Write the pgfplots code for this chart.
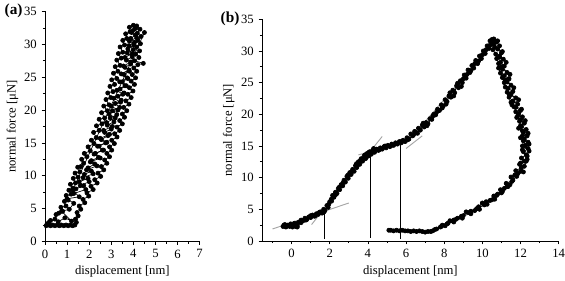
\documentclass[border=0pt]{standalone}
\usepackage{fontspec}
\setmainfont{Liberation Serif}
\usepackage{pgfplots}
\pgfplotsset{compat=1.18}
\pgfplotsset{
  myax/.style={
    scale only axis,
    anchor=south west,
    axis x line*=bottom, axis y line*=left,
    axis line style={-, line width=0.6pt, black},
    tick align=outside,
    major tick length=2.6pt, minor tick length=1.6pt,
    every tick/.style={black, line width=0.5pt},
    /pgf/number format/assume math mode=true,
    tick label style={font=\fontsize{9.5}{11}\selectfont},
    label style={font=\fontsize{9.5}{11}\selectfont},
    ymin=0, ymax=35, ytick={0,5,...,35}, minor ytick={2.5,7.5,...,32.5},
    clip=false,
  },
  dots/.style={black, line width=0.5pt, mark=*, mark size=1.55pt, mark options={solid}},
  fit/.style={gray!70, line width=0.7pt},
}
\begin{document}
\begin{tikzpicture}
\useasboundingbox (0,0) rectangle (423.75pt,210pt);
% ---------------- panel (a)
\begin{axis}[myax,
  at={(33.75pt,28.9pt)}, width=116pt, height=172.5pt,
  xmin=0, xmax=7, xtick={0,...,7}, minor xtick={0.5,1.5,...,6.5},
  xlabel={displacement [nm]}, ylabel={normal force [μN]},
  xlabel style={at={(axis description cs:0.5,0)}, anchor=center, yshift=-22.5pt},
  ylabel style={at={(axis description cs:-0.21,0.5)}, anchor=center},
]
% left branch
\addplot[dots] coordinates {
(0.10,2.7) (0.18,2.9) (0.25,3.2) (0.45,3.4) (0.50,4.1) (0.62,4.3) (0.80,4.6) (0.72,5.2) (0.95,5.4) (0.88,6.1)
(1.05,6.3) (0.96,7.0) (1.18,7.2) (1.08,7.8) (1.26,8.1) (1.15,8.7) (1.38,8.9) (1.28,9.6) (1.50,9.8) (1.36,10.4)
(1.58,10.6) (1.48,11.3) (1.62,11.4) (1.75,11.9) (1.66,12.5) (1.90,12.9) (1.78,13.4) (2.05,13.8) (1.95,14.4) (2.22,14.9)
(2.10,15.4) (2.32,15.8) (2.20,16.6) (2.45,16.9) (2.33,17.6) (2.58,17.9) (2.45,18.6) (2.70,18.8) (2.56,19.6) (2.82,19.9)
(2.66,20.6) (2.90,20.8) (2.76,21.6) (2.98,21.9) (2.84,22.6) (3.08,22.8) (2.94,23.6) (3.15,23.9) (3.02,24.6) (3.25,24.8)
(3.10,25.6) (3.30,25.9) (3.18,26.6) (3.40,26.8) (3.25,27.6) (3.45,27.9) (3.32,28.6) (3.52,28.8) (3.40,29.6) (3.60,29.9)
(3.52,30.6) (3.70,30.9) (3.65,31.6) (3.85,31.9) (3.82,32.6) (4.00,32.9)
};
% right branch
\addplot[dots] coordinates {
(4.15,32.8) (4.30,32.3) (4.18,31.7) (4.35,31.2) (4.20,30.6) (4.32,30.1) (4.15,29.6) (4.28,29.0) (4.10,28.5) (4.25,28.0)
(4.05,27.5) (4.45,27.1) (4.20,26.9) (4.02,26.4) (4.15,25.9) (3.95,25.4) (4.10,24.9) (3.90,24.4) (4.05,23.9) (3.82,23.4)
(3.98,22.9) (3.75,22.4) (3.90,21.9) (3.66,21.4) (3.80,20.9) (3.56,20.4) (3.70,19.9) (3.50,19.4) (3.60,18.9) (3.38,18.4)
(3.50,17.9) (3.26,17.4) (3.38,16.9) (3.15,16.4) (3.26,15.9) (3.02,15.4) (3.14,14.9) (2.92,14.4) (3.02,13.9) (2.80,13.4)
(2.92,12.9) (2.70,12.4) (2.80,11.9) (2.55,11.4) (2.66,10.9) (2.40,10.4) (2.52,9.9) (2.25,9.4) (2.36,8.9) (2.08,8.4)
(2.18,7.9) (1.90,7.4) (1.98,6.9) (1.72,6.4) (1.80,5.9) (1.55,5.4) (1.62,4.9) (1.45,4.4) (1.50,3.9) (1.38,3.4)
(1.42,2.9) (1.35,2.5) (1.25,2.4) (1.15,2.5) (1.05,2.4) (0.95,2.5) (0.85,2.4) (0.75,2.5) (0.65,2.4) (0.55,2.5)
(0.45,2.4) (0.35,2.5) (0.25,2.4) (0.15,2.5) (0.05,2.4)
};
% middle passes
\addplot[dots] coordinates {
(1.40,8.0) (1.75,8.5) (1.55,9.1) (1.95,9.6) (1.78,10.2) (2.10,10.7) (1.95,11.2) (2.25,11.8) (2.10,12.3) (2.42,12.8)
(2.28,13.4) (2.60,13.9) (2.45,14.5) (2.75,15.0) (2.55,15.5) (2.85,16.1) (2.70,16.6) (3.00,17.1) (2.82,17.7) (3.12,18.2)
(2.95,18.8) (3.25,19.3) (3.05,19.9) (3.38,20.4) (3.18,21.0) (3.45,21.5) (3.30,22.1) (3.58,22.6) (3.40,23.2) (3.68,23.7)
(3.50,24.3) (3.75,24.8) (3.58,25.4) (3.82,25.9) (3.62,26.5) (3.88,27.0) (3.68,27.6) (3.95,28.1) (3.72,28.7) (4.00,29.2)
(3.80,29.8) (4.05,30.3) (3.88,30.9) (4.10,31.4) (3.95,32.0) (4.12,32.5)
};
\addplot[dots] coordinates {
(4.05,32.3) (3.92,31.8) (4.15,31.0) (3.82,30.5) (4.02,29.9) (3.75,29.3) (3.95,28.6) (3.62,28.0) (3.88,27.3) (3.55,26.7)
(3.80,26.1) (3.45,25.5) (3.72,24.9) (3.38,24.3) (3.62,23.7) (3.25,23.0) (3.52,22.4) (3.12,21.8) (3.42,21.2) (3.00,20.6)
(3.30,20.0) (2.90,19.4) (3.18,18.8) (2.78,18.1) (3.05,17.5) (2.65,16.9) (2.92,16.3) (2.50,15.7) (2.80,15.1) (2.38,14.5)
(2.65,13.9) (2.22,13.3) (2.50,12.7) (2.05,12.1) (2.35,11.5) (1.88,10.9) (2.18,10.3) (1.72,9.7) (2.00,9.1) (1.60,8.5)
(1.85,7.9) (1.30,7.3)
};
\addplot[dots] coordinates {
(0.60,3.0) (0.90,3.6) (1.20,3.1) (0.75,4.6) (1.10,4.9) (1.30,5.8) (1.00,6.5) (1.55,6.8) (1.25,7.8) (4.50,31.8)
};
\end{axis}
\node[anchor=west, font=\fontsize{11.5}{13}\selectfont\bfseries] at (0pt,201.75pt) {(a)};
% ---------------- panel (b)
\begin{axis}[myax,
  at={(196.5pt,29.25pt)}, width=222.5pt, height=166.3pt,
  xmin=-1.55, xmax=14, xtick={0,2,...,14}, minor xtick={-1,1,3,...,13},
  xlabel={displacement [nm]}, ylabel={normal force [μN]},
  xlabel style={at={(axis description cs:0.5,0)}, anchor=center, yshift=-22.5pt},
  ylabel style={at={(axis description cs:-0.112,0.5)}, anchor=center},
]
% loading
\addplot[dots] coordinates {
(-0.45,2.3) (-0.35,2.6) (-0.3,2.2) (-0.2,2.5) (-0.1,2.3) (-0.05,2.7) (0.05,2.2) (0.1,2.5) (0.2,2.3) (0.25,2.7)
(0.3,2.4) (0.35,2.9) (0.4,3.0) (0.5,3.3) (0.6,3.2) (0.7,3.6) (0.8,3.4) (0.9,3.8) (1.0,3.7) (1.1,4.1)
(1.2,3.9) (1.3,4.3) (1.4,4.2) (1.5,4.6) (1.6,4.4) (1.68,5.0) (1.75,4.8) (1.85,5.6) (1.92,5.3) (2.0,6.2)
(2.08,6.6) (2.15,7.2) (2.22,6.9) (2.3,7.7) (2.38,7.5) (2.45,8.3) (2.52,8.1) (2.6,8.9) (2.68,8.7) (2.75,9.6)
(2.82,9.3) (2.9,10.2) (2.97,9.9) (3.05,10.8) (3.12,10.5) (3.2,11.3) (3.28,11.0) (3.35,11.9) (3.42,11.6) (3.5,12.5)
(3.57,12.1) (3.65,13.0) (3.72,12.6) (3.8,13.4) (3.88,13.0) (3.95,13.8) (4.02,13.4) (4.1,14.1) (4.18,13.7) (4.25,14.3)
(4.35,14.0) (4.45,14.5) (4.55,14.3) (4.65,14.7) (4.75,14.5) (4.85,14.9) (4.95,14.7) (5.05,15.1) (5.15,14.9) (5.25,15.3)
(5.35,15.1) (5.45,15.5) (5.55,15.3) (5.65,15.7) (5.75,15.5) (5.85,15.9) (5.95,15.7) (6.05,16.3) (6.15,16.1) (6.25,16.9)
(6.35,16.6) (6.45,17.3) (6.55,17.1) (6.65,17.8) (6.75,17.5) (6.85,18.3) (6.95,18.0) (7.05,18.7) (7.15,18.5) (7.25,19.3)
(7.35,19.2) (7.45,20.0) (7.55,19.9) (7.65,20.8) (7.75,20.6) (7.85,21.5) (7.95,21.3) (8.05,22.3) (8.15,22.0) (8.25,22.9)
(8.35,22.7) (8.45,23.8) (8.55,23.4) (8.65,24.5) (8.75,24.2) (8.85,25.3) (8.95,25.0) (9.05,26.2) (9.15,25.7) (9.25,27.0)
(9.35,26.6) (9.45,27.7) (9.55,27.3) (9.65,28.5) (9.75,28.0) (9.85,29.2) (9.95,28.8) (10.05,30.0) (10.15,29.6) (10.25,30.8)
(10.35,30.4) (10.45,31.5) (10.55,31.1) (10.65,31.6)
};
\addplot[dots] coordinates {
(-0.4,2.5) (0.15,2.8) (0.0,2.4) (-0.25,2.4) (0.3,2.2)
};
\addplot[dots] coordinates {
(0.5,2.9) (0.75,3.3) (1.0,4.0) (1.25,4.0) (1.45,4.5) (1.7,4.6) (1.95,5.8) (2.1,6.3) (2.3,7.3) (2.5,8.5)
(2.7,9.2) (2.95,10.4) (3.15,10.9) (3.4,12.2) (3.6,12.7) (3.85,13.6) (4.05,14.0) (4.3,14.6) (4.6,14.4) (4.9,15.0)
(5.2,15.0) (5.5,15.4) (5.8,15.8) (6.1,16.0) (6.4,16.8)
};
\addplot[dots] coordinates {
(6.6,17.0) (6.9,18.6) (7.1,18.2) (7.4,19.7) (7.6,20.3) (7.9,21.0) (8.1,21.6) (8.3,23.4) (8.5,22.9) (8.7,24.9)
(8.9,24.4) (9.0,25.6) (9.2,26.3) (9.4,26.9) (9.6,28.0) (9.8,28.4) (10.0,29.4) (10.2,30.2) (10.4,30.9) (10.6,31.9)
(10.8,31.6) (10.5,31.8)
};
% unloading
\addplot[dots] coordinates {
(10.75,31.4) (10.9,30.8) (10.8,30.3) (11.0,29.7) (10.9,29.2) (11.1,28.7) (10.95,28.2) (11.15,27.6) (11.05,27.1) (11.3,26.6)
(11.15,26.1) (11.4,25.6) (11.3,25.1) (11.5,24.6) (11.35,24.1) (11.6,23.6) (11.5,23.1) (11.75,22.6) (11.6,22.1) (11.85,21.6)
(11.75,21.1) (12.0,20.6) (11.9,20.1) (12.1,19.6) (12.0,19.1) (12.2,18.6) (12.05,18.1) (12.3,17.6) (12.15,17.1) (12.35,16.6)
(12.2,16.1) (12.4,15.6) (12.25,15.1) (12.4,14.6) (12.15,14.1) (12.3,13.6) (12.05,13.1) (12.2,12.6) (11.95,12.1) (12.05,11.6)
(11.75,11.1) (11.85,10.6) (11.5,10.1) (11.6,9.6) (11.25,9.1) (11.35,8.6) (10.95,8.1) (11.0,7.6) (10.6,7.1) (10.65,6.6)
(10.2,6.2) (10.25,5.8) (9.8,5.4) (9.85,5.0) (9.4,4.7) (9.4,4.3) (9.0,4.0) (8.95,3.6) (8.6,3.4) (8.5,3.0)
(8.2,2.8) (8.05,2.4) (7.8,2.2) (7.6,1.9) (7.4,1.6) (7.3,1.5) (7.15,1.5) (7.0,1.4) (6.85,1.5) (6.7,1.6)
(6.55,1.5) (6.4,1.6) (6.25,1.5) (6.1,1.6) (5.95,1.6) (5.8,1.7) (5.65,1.6) (5.5,1.7) (5.35,1.6) (5.2,1.7) (5.1,1.7)
};
\addplot[dots] coordinates {
(10.4,31.6) (10.6,31.0) (10.55,30.2) (10.7,29.5) (10.75,28.8) (10.85,28.0) (10.85,27.3) (10.95,26.5) (11.05,25.8) (11.15,25.0)
(11.2,24.3) (11.3,23.5) (11.4,22.7) (11.5,21.9) (11.65,21.2) (11.75,20.4) (11.85,19.7) (11.95,18.9) (12.0,18.2) (12.1,17.4)
(12.1,16.6) (12.15,15.8) (12.1,15.0) (12.45,14.2) (12.35,13.4) (12.3,12.6) (12.2,11.8) (12.0,11.0) (11.8,10.2) (11.55,9.4)
(11.3,8.6) (11.05,7.8) (10.75,7.2) (10.5,6.5) (10.1,5.7) (9.7,5.1) (9.3,4.5) (8.9,3.9) (8.5,3.3) (8.15,2.7)
(7.85,2.3) (7.5,1.8)
};
\addplot[dots] coordinates {
(10.65,30.6) (11.05,29.9) (10.9,29.0) (11.25,28.2) (11.0,27.5) (11.45,26.3) (11.2,25.4) (11.65,24.2) (11.4,23.2) (11.9,22.3)
(11.55,21.5) (12.05,20.8) (11.8,19.5) (12.25,19.0) (11.9,17.8) (12.4,17.0) (12.0,16.3) (12.45,15.3) (12.1,14.4) (12.35,12.9)
(12.0,12.3) (12.15,10.9) (11.7,10.4) (11.45,8.9) (11.15,8.3) (10.8,7.4) (10.4,6.4) (10.0,6.0) (9.6,4.8) (9.15,4.6)
(8.7,3.6) (8.3,3.2) (7.9,2.5)
};
% fit lines
\addplot[fit] coordinates {(-1,1.9) (3,6)};
\addplot[fit] coordinates {(1.05,2.6) (4.75,16.5)};
\addplot[fit] coordinates {(3.5,13.6) (6.1,15.6)};
\addplot[fit] coordinates {(6.0,14.6) (6.85,16.6)};
\addplot[fit] coordinates {(6.3,16.4) (8.9,25.5)};
% vertical markers
\addplot[black, line width=0.6pt] coordinates {(1.7,0.3) (1.7,4.6)};
\addplot[black, line width=0.6pt] coordinates {(4.15,0.5) (4.15,13.9)};
\addplot[black, line width=0.6pt] coordinates {(5.68,0.3) (5.68,15.3)};
\end{axis}
\node[anchor=west, font=\fontsize{11.5}{13}\selectfont\bfseries] at (162pt,195.75pt) {(b)};
\end{tikzpicture}
\end{document}
